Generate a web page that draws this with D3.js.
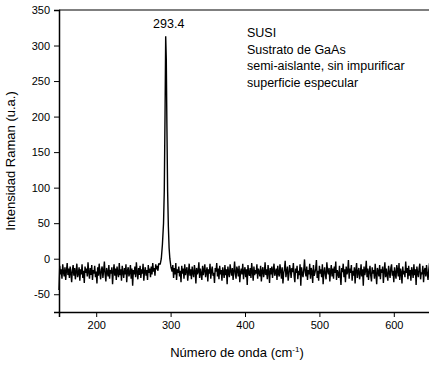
<!DOCTYPE html>
<html>
<head>
<meta charset="utf-8">
<script src="https://cdn.jsdelivr.net/npm/d3@7"></script>
<style>
  body { margin: 0; background: #fff; }
  svg { display: block; font-family: "Liberation Sans", Arial, sans-serif; }
</style>
</head>
<body>
<script>
// spectrum pieces: noisy baseline left of the peak, the peak itself, baseline right of it
let leftStart = 150, rightStart = 302, step = 1;
let noiseLeft = [
  -44,-10,-22,-15,-28,-8,-19,-25,-12,-30,-17,-6,-23,-14,-27,
  -11,-20,-33,-16,-9,-24,-13,-29,-18,-7,-26,-21,-12,-31,-15,
  -22,-8,-27,-17,-34,-11,-20,-14,-25,-5,-19,-28,-13,-23,-9,
  -30,-16,-21,-10,-26,-18,-35,-12,-24,-7,-20,-29,-15,-11,-27,
  -17,-4,-22,-32,-13,-19,-25,-9,-28,-16,-21,-12,-36,-18,-8,
  -24,-14,-30,-11,-20,-26,-6,-23,-15,-31,-10,-19,-27,-13,-22,
  -8,-33,-17,-12,-25,-20,-9,-28,-14,-38,-16,-22,-11,-26,-5,
  -19,-29,-13,-23,-10,-27,-15,-21,-7,-31,-18,-12,-24,-16,-30,
  -9,-20,-14,-26,-11,-22,-6,-18,-13,-24,-8,-15,-10,-17,-7
];
let peakX = [286, 287.5, 289, 290.5, 291.5, 292.5, 293.4, 294.2, 295, 296, 297, 298, 299, 300.5];
let peakY = [-8, 0, 20, 50, 95, 200, 313, 281, 190, 95, 45, 15, 0, -12];
let noiseRight = [
  -18,-9,-27,-13,-22,-6,-30,-15,-20,-11,-25,-17,-33,-10,-21,-14,-28,-8,-23,-16,
  -12,-31,-19,-7,-24,-15,-29,-11,-20,-26,-9,-17,-35,-13,-22,-18,-5,-27,-14,-21,
  -30,-10,-23,-16,-8,-26,-19,-12,-32,-15,-21,-7,-28,-17,-11,-24,-20,-34,-13,-18,
  -6,-25,-14,-29,-10,-22,-16,-31,-12,-19,-27,-9,-23,-15,-36,-11,-20,-26,-8,-17,
  -24,-13,-30,-18,-4,-21,-28,-11,-16,-25,-10,-33,-19,-14,-22,-7,-29,-17,-12,-26,
  -15,-37,-9,-20,-24,-13,-27,-6,-18,-31,-11,-23,-16,-21,-8,-28,-14,-19,-25,-10,
  -32,-17,-12,-26,-20,-5,-23,-15,-29,-9,-18,-34,-13,-22,-11,-27,-16,-7,-24,-19,
  -14,-30,-10,-21,-25,-8,-17,-28,-12,-35,-20,-15,-3,-26,-18,-11,-31,-22,-9,-16,
  -27,-13,-19,-6,-24,-33,-14,-20,-10,-29,-17,-23,-8,-38,-12,-21,-26,-15,-1,-19,
  -25,-11,-30,-16,-22,-7,-28,-13,-18,-34,-9,-24,-20,-14,-2,-27,-17,-31,-10,-21,
  -15,-26,-8,-36,-19,-12,-23,-29,-5,-17,-22,-13,-32,-18,-9,-25,-14,-28,-11,-20,
  -4,-30,-16,-21,-27,-10,-24,-37,-13,-19,-7,-26,-15,-33,-11,-22,-18,-2,-28,-14,
  -20,-9,-31,-17,-24,-12,-35,-16,-6,-27,-19,-13,-29,-21,-8,-25,-15,-38,-11,-23,
  -17,-3,-26,-14,-30,-19,-10,-24,-32,-12,-21,-16,-28,-7,-22,-36,-13,-18,-25,-9,
  -29,-15,-20,-11,-34,-18,-5,-26,-14,-23,-31,-10,-19,-27,-13,-8,-24,-17,-33,-12,
  -21,-28,-9,-16,-25,-6,-30,-14,-19,-35,-11,-22,-17,-26,-4,-20,-13,-29,-10,-24,
  -16,-31,-12,-18,-27,-8,-23,-15,-37,-11,-20,-26,-14,-7,-29,-19,-22,-10,-33,-17,
  -13,-25,-9,-21,-30,-16,-6,-24,-18
];
let xTicks = [200, 300, 400, 500, 600];
let xMinor = [150, 250, 350, 450, 550, 650];
let yTicks = [-50, 0, 50, 100, 150, 200, 250, 300, 350];
let yMinor = [-75, -25, 25, 75, 125, 175, 225, 275, 325];
let notes = ["SUSI", "Sustrato de GaAs", "semi-aislante, sin impurificar", "superficie especular"];
let peakLabel = "293.4";

let width = 429, height = 369;
let x = d3.scaleLinear().domain([150, 650]).range([59, 431]);
let y = d3.scaleLinear().domain([-75, 350]).range([312, 10]);

// join the pieces into one series
let data = [];
noiseLeft.forEach((v, i) => data.push([leftStart + i * step, v]));
peakX.forEach((v, i) => data.push([v, peakY[i]]));
noiseRight.forEach((v, i) => data.push([rightStart + i * step, v]));

let svg = d3.select("body").append("svg")
  .attr("width", width)
  .attr("height", height);

// top frame line
svg.append("line")
  .attr("x1", x(150)).attr("x2", x(650))
  .attr("y1", y(350)).attr("y2", y(350))
  .attr("stroke", "#555").attr("stroke-width", 1.5);

svg.append("path")
  .datum(data)
  .attr("fill", "none")
  .attr("stroke", "#000")
  .attr("stroke-width", 1.4)
  .attr("stroke-linejoin", "bevel")
  .attr("d", d3.line().x(d => x(d[0])).y(d => y(d[1])));

let fmt = d => String(d);

// x axis, major + minor ticks
let xAxis = svg.append("g").attr("transform", `translate(0,${y(-75)})`);
xAxis.call(d3.axisBottom(x).tickValues(xMinor).tickSize(3).tickFormat(""));
xAxis.call(d3.axisBottom(x).tickValues(xTicks).tickSize(5).tickPadding(4).tickFormat(fmt));
xAxis.selectAll(".domain").attr("stroke-width", 1.5);
xAxis.selectAll("text").attr("font-size", 11).attr("fill", "#000").attr("font-family", "Liberation Sans, Arial, sans-serif");

let yAxis = svg.append("g").attr("transform", `translate(${x(150)},0)`);
yAxis.call(d3.axisLeft(y).tickValues(yMinor).tickSize(3).tickFormat(""));
yAxis.call(d3.axisLeft(y).tickValues(yTicks).tickSize(5).tickPadding(4).tickFormat(fmt));
yAxis.selectAll(".domain").attr("stroke-width", 1.5);
yAxis.selectAll("text").attr("font-size", 11).attr("fill", "#000").attr("font-family", "Liberation Sans, Arial, sans-serif");

// axis titles
let xt = svg.append("text")
  .attr("x", 237).attr("y", 357)
  .attr("text-anchor", "middle")
  .attr("font-size", 13);
xt.append("tspan").text("Número de onda (cm");
xt.append("tspan").attr("dy", -5).attr("font-size", 8).text("-1");
xt.append("tspan").attr("dy", 5).text(")");

svg.append("text")
  .attr("transform", "translate(15,161) rotate(-90)")
  .attr("text-anchor", "middle")
  .attr("font-size", 13)
  .text("Intensidad Raman (u.a.)");

// annotations
svg.append("text")
  .attr("x", x(293.4) + 3).attr("y", 28)
  .attr("text-anchor", "middle")
  .attr("font-size", 12.5)
  .text(peakLabel);

svg.selectAll(".note")
  .data(notes)
  .enter().append("text")
  .attr("class", "note")
  .attr("x", 247)
  .attr("y", (d, i) => 37 + i * 16.7)
  .attr("font-size", 12.5)
  .text(d => d);
</script>
</body>
</html>
